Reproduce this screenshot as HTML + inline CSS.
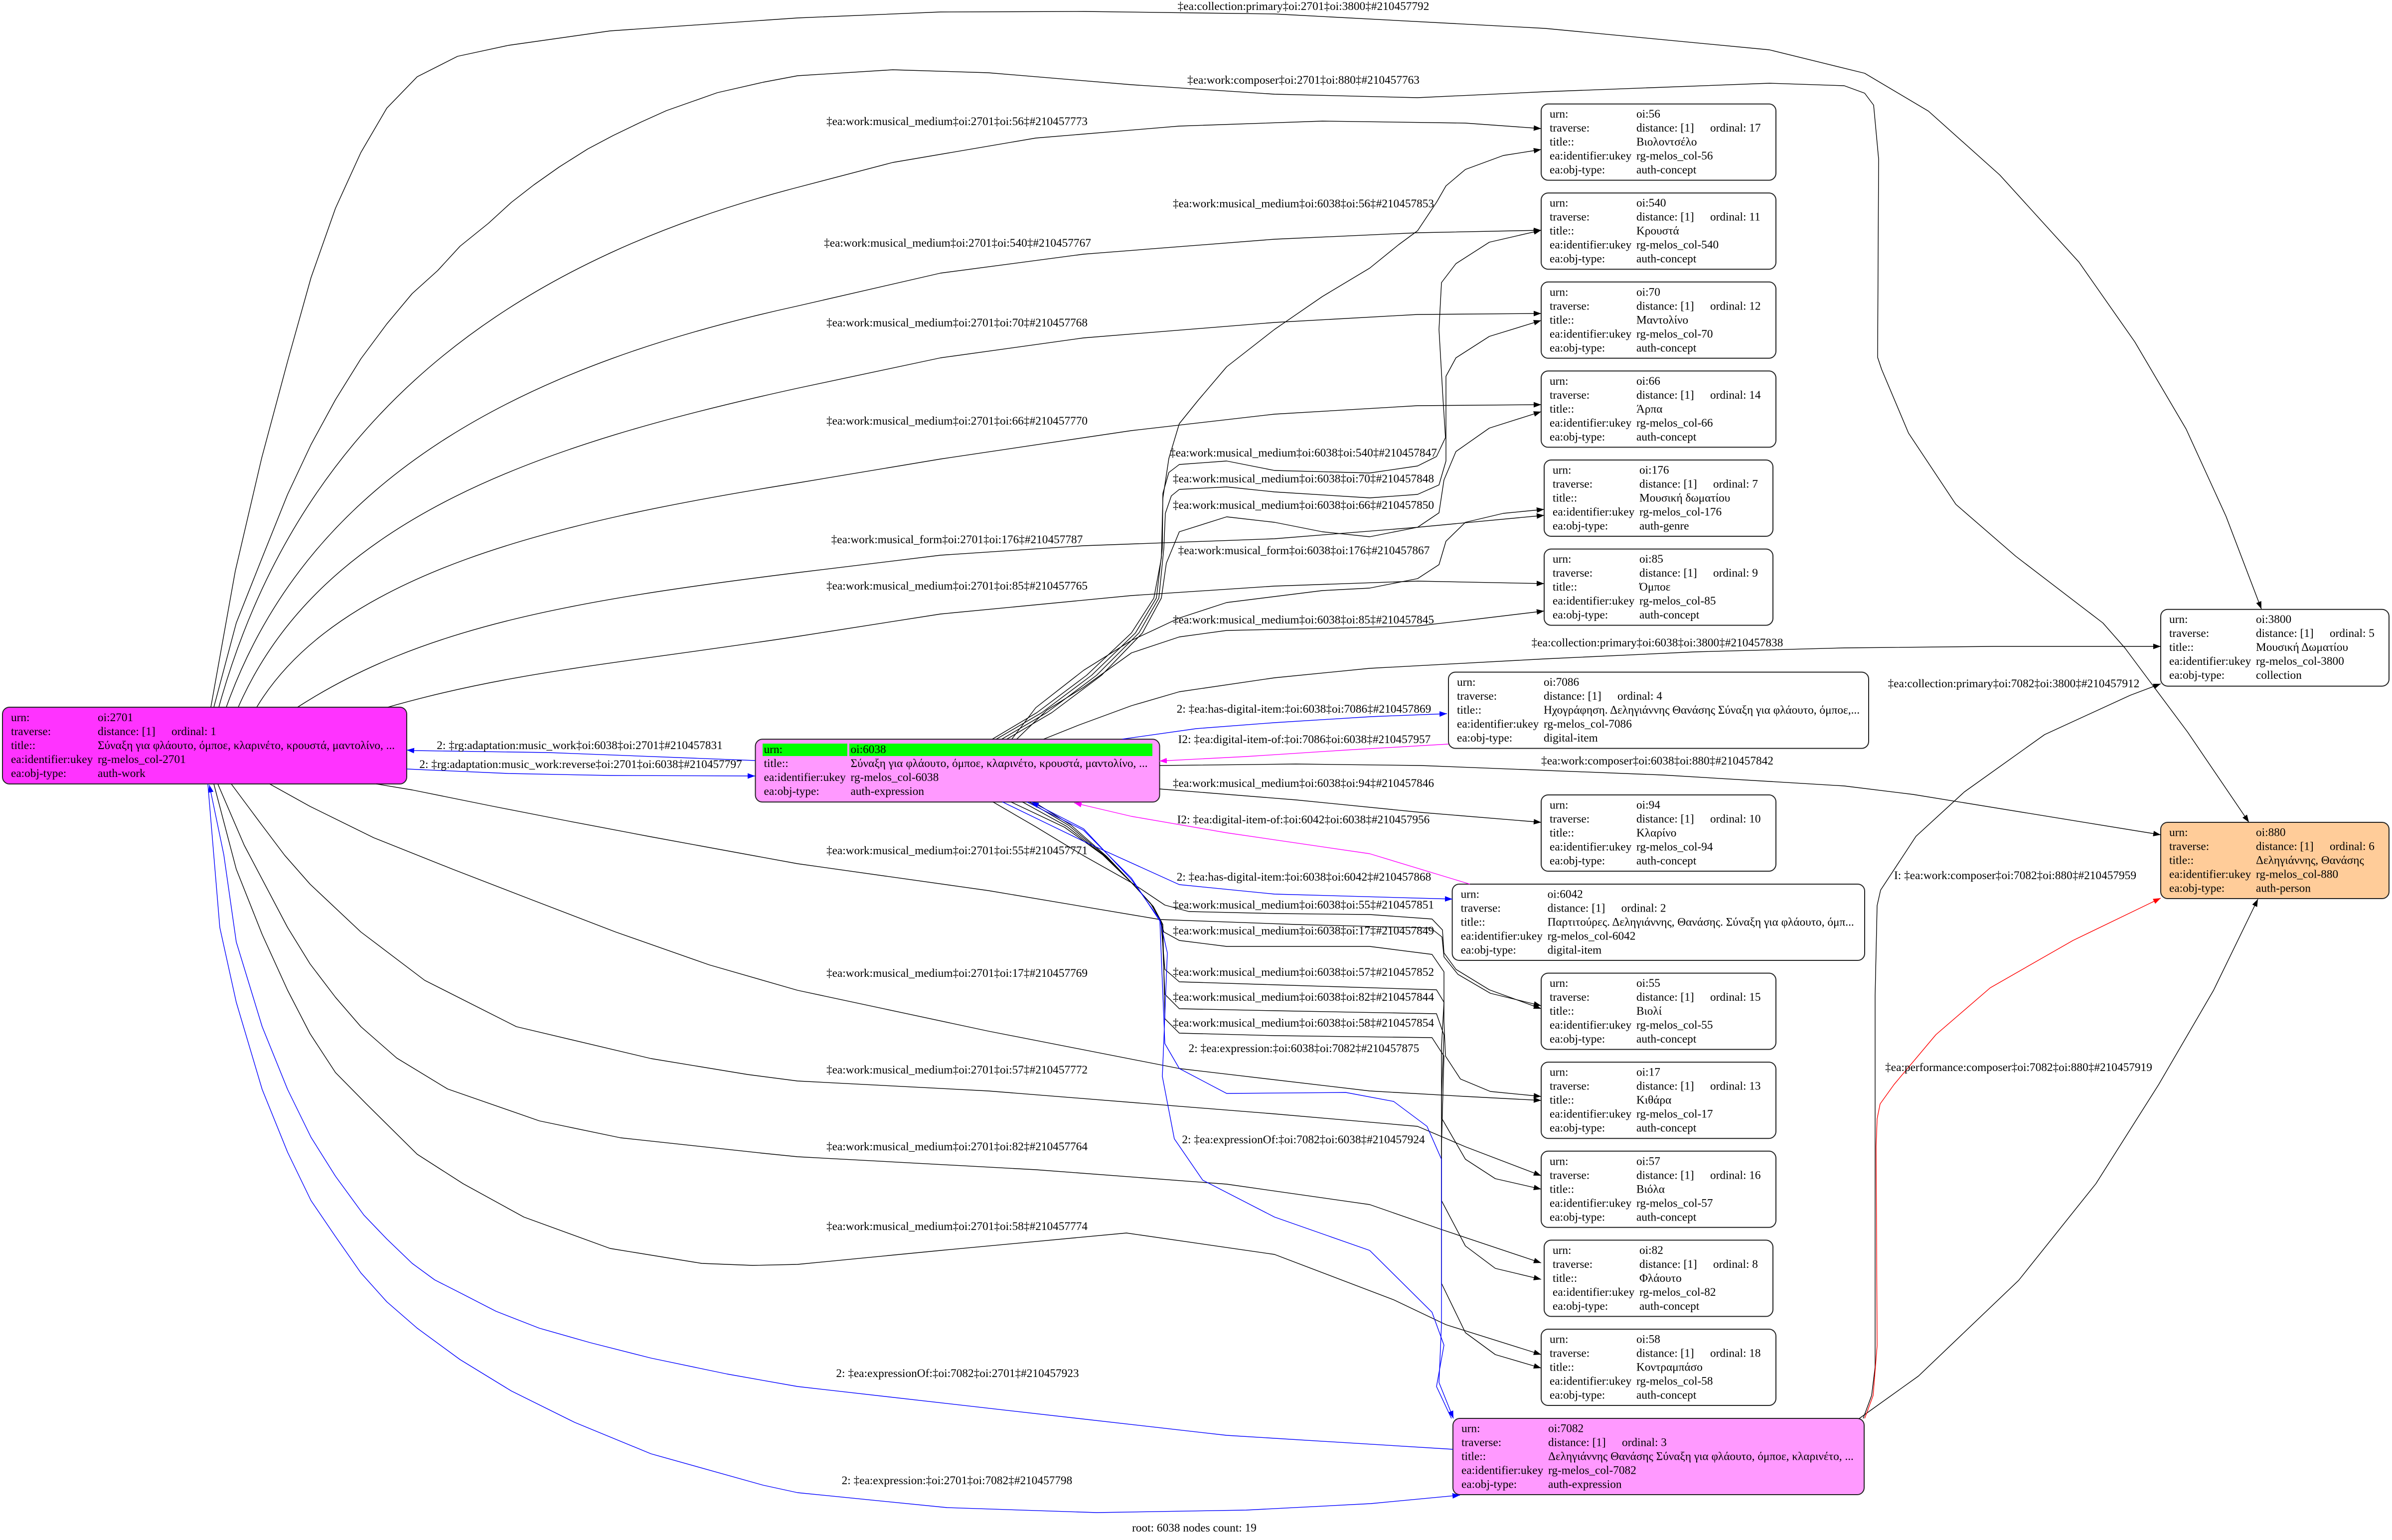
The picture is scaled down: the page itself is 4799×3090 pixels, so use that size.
<!DOCTYPE html>
<html><head><meta charset="utf-8"><style>
html,body{margin:0;padding:0;background:#fff;}
svg{display:block;}
.n{stroke:#222;stroke-width:2;}
.e{fill:none;stroke-width:1.4;stroke-linejoin:round;}
.k{stroke:#000;marker-end:url(#ak);}
.b{stroke:#0000ff;marker-end:url(#ab);}
.m{stroke:#ff00ff;marker-end:url(#am);}
.r{stroke:#ff0000;marker-end:url(#ar);}
.lb{text-anchor:middle;}
</style></head><body>
<svg xmlns="http://www.w3.org/2000/svg" width="4799" height="3090" viewBox="0 0 4799 3090" font-family="'Liberation Serif','DejaVu Serif',serif" font-size="23.3" fill="#000">
<defs>
<marker id="ak" markerUnits="userSpaceOnUse" markerWidth="16" markerHeight="12" refX="15" refY="5.5" orient="auto"><path d="M0,0 L15,5.5 L0,11 z" fill="#000"/></marker>
<marker id="ab" markerUnits="userSpaceOnUse" markerWidth="16" markerHeight="12" refX="15" refY="5.5" orient="auto"><path d="M0,0 L15,5.5 L0,11 z" fill="#0000ff"/></marker>
<marker id="am" markerUnits="userSpaceOnUse" markerWidth="16" markerHeight="12" refX="15" refY="5.5" orient="auto"><path d="M0,0 L15,5.5 L0,11 z" fill="#ff00ff"/></marker>
<marker id="ar" markerUnits="userSpaceOnUse" markerWidth="16" markerHeight="12" refX="15" refY="5.5" orient="auto"><path d="M0,0 L15,5.5 L0,11 z" fill="#ff0000"/></marker>
</defs>
<rect width="4799" height="3090" fill="#fff"/>

<!-- NODES -->
<g transform="translate(5,1419)">
<rect width="811" height="154" rx="14" class="n" fill="#ff33ff"/>
<text x="17" y="28">urn:</text><text x="191" y="28">oi:2701</text>
<text x="17" y="56">traverse:</text><text x="191" y="56">distance: [1]</text><text x="339" y="56">ordinal: 1</text>
<text x="17" y="84">title::</text><text x="191" y="84">Σύναξη για φλάουτο, όμποε, κλαρινέτο, κρουστά, μαντολίνο, ...</text>
<text x="17" y="112">ea:identifier:ukey</text><text x="191" y="112">rg-melos_col-2701</text>
<text x="17" y="140">ea:obj-type:</text><text x="191" y="140">auth-work</text>
</g>

<g transform="translate(1515.5,1483.3)">
<rect width="811" height="126" rx="14" class="n" fill="#ff99ff"/>
<rect x="14.5" y="8.7" width="170" height="25" fill="#00ff00"/>
<rect x="188.5" y="8.7" width="608" height="25" fill="#00ff00"/>
<text x="17" y="27.5">urn:</text><text x="191" y="27.5">oi:6038</text>
<text x="17" y="55.5">title::</text><text x="191" y="55.5">Σύναξη για φλάουτο, όμποε, κλαρινέτο, κρουστά, μαντολίνο, ...</text>
<text x="17" y="83.5">ea:identifier:ukey</text><text x="191" y="83.5">rg-melos_col-6038</text>
<text x="17" y="111.5">ea:obj-type:</text><text x="191" y="111.5">auth-expression</text>
</g>

<g transform="translate(3092,208.6)">
<rect width="471" height="153" rx="14" class="n" fill="#fff"/>
<text x="17" y="27.5">urn:</text><text x="191" y="27.5">oi:56</text>
<text x="17" y="55.5">traverse:</text><text x="191" y="55.5">distance: [1]</text><text x="339" y="55.5">ordinal: 17</text>
<text x="17" y="83.5">title::</text><text x="191" y="83.5">Βιολοντσέλο</text>
<text x="17" y="111.5">ea:identifier:ukey</text><text x="191" y="111.5">rg-melos_col-56</text>
<text x="17" y="139.5">ea:obj-type:</text><text x="191" y="139.5">auth-concept</text>
</g>

<g transform="translate(3092,387.2)">
<rect width="471" height="153" rx="14" class="n" fill="#fff"/>
<text x="17" y="27.5">urn:</text><text x="191" y="27.5">oi:540</text>
<text x="17" y="55.5">traverse:</text><text x="191" y="55.5">distance: [1]</text><text x="339" y="55.5">ordinal: 11</text>
<text x="17" y="83.5">title::</text><text x="191" y="83.5">Κρουστά</text>
<text x="17" y="111.5">ea:identifier:ukey</text><text x="191" y="111.5">rg-melos_col-540</text>
<text x="17" y="139.5">ea:obj-type:</text><text x="191" y="139.5">auth-concept</text>
</g>

<g transform="translate(3092,565.8)">
<rect width="471" height="153" rx="14" class="n" fill="#fff"/>
<text x="17" y="27.5">urn:</text><text x="191" y="27.5">oi:70</text>
<text x="17" y="55.5">traverse:</text><text x="191" y="55.5">distance: [1]</text><text x="339" y="55.5">ordinal: 12</text>
<text x="17" y="83.5">title::</text><text x="191" y="83.5">Μαντολίνο</text>
<text x="17" y="111.5">ea:identifier:ukey</text><text x="191" y="111.5">rg-melos_col-70</text>
<text x="17" y="139.5">ea:obj-type:</text><text x="191" y="139.5">auth-concept</text>
</g>

<g transform="translate(3092,744.4)">
<rect width="471" height="153" rx="14" class="n" fill="#fff"/>
<text x="17" y="27.5">urn:</text><text x="191" y="27.5">oi:66</text>
<text x="17" y="55.5">traverse:</text><text x="191" y="55.5">distance: [1]</text><text x="339" y="55.5">ordinal: 14</text>
<text x="17" y="83.5">title::</text><text x="191" y="83.5">Άρπα</text>
<text x="17" y="111.5">ea:identifier:ukey</text><text x="191" y="111.5">rg-melos_col-66</text>
<text x="17" y="139.5">ea:obj-type:</text><text x="191" y="139.5">auth-concept</text>
</g>

<g transform="translate(3098,923)">
<rect width="459" height="153" rx="14" class="n" fill="#fff"/>
<text x="17" y="27.5">urn:</text><text x="191" y="27.5">oi:176</text>
<text x="17" y="55.5">traverse:</text><text x="191" y="55.5">distance: [1]</text><text x="339" y="55.5">ordinal: 7</text>
<text x="17" y="83.5">title::</text><text x="191" y="83.5">Μουσική δωματίου</text>
<text x="17" y="111.5">ea:identifier:ukey</text><text x="191" y="111.5">rg-melos_col-176</text>
<text x="17" y="139.5">ea:obj-type:</text><text x="191" y="139.5">auth-genre</text>
</g>

<g transform="translate(3098,1101.6)">
<rect width="459" height="153" rx="14" class="n" fill="#fff"/>
<text x="17" y="27.5">urn:</text><text x="191" y="27.5">oi:85</text>
<text x="17" y="55.5">traverse:</text><text x="191" y="55.5">distance: [1]</text><text x="339" y="55.5">ordinal: 9</text>
<text x="17" y="83.5">title::</text><text x="191" y="83.5">Όμποε</text>
<text x="17" y="111.5">ea:identifier:ukey</text><text x="191" y="111.5">rg-melos_col-85</text>
<text x="17" y="139.5">ea:obj-type:</text><text x="191" y="139.5">auth-concept</text>
</g>

<g transform="translate(2906,1348.6)">
<rect width="843" height="153" rx="14" class="n" fill="#fff"/>
<text x="17" y="27.5">urn:</text><text x="191" y="27.5">oi:7086</text>
<text x="17" y="55.5">traverse:</text><text x="191" y="55.5">distance: [1]</text><text x="339" y="55.5">ordinal: 4</text>
<text x="17" y="83.5">title::</text><text x="191" y="83.5">Ηχογράφηση. Δεληγιάννης Θανάσης Σύναξη για φλάουτο, όμποε,...</text>
<text x="17" y="111.5">ea:identifier:ukey</text><text x="191" y="111.5">rg-melos_col-7086</text>
<text x="17" y="139.5">ea:obj-type:</text><text x="191" y="139.5">digital-item</text>
</g>

<g transform="translate(3092,1595)">
<rect width="471" height="153" rx="14" class="n" fill="#fff"/>
<text x="17" y="27.5">urn:</text><text x="191" y="27.5">oi:94</text>
<text x="17" y="55.5">traverse:</text><text x="191" y="55.5">distance: [1]</text><text x="339" y="55.5">ordinal: 10</text>
<text x="17" y="83.5">title::</text><text x="191" y="83.5">Κλαρίνο</text>
<text x="17" y="111.5">ea:identifier:ukey</text><text x="191" y="111.5">rg-melos_col-94</text>
<text x="17" y="139.5">ea:obj-type:</text><text x="191" y="139.5">auth-concept</text>
</g>

<g transform="translate(2913.6,1774)">
<rect width="827.4" height="153" rx="14" class="n" fill="#fff"/>
<text x="17" y="27.5">urn:</text><text x="191" y="27.5">oi:6042</text>
<text x="17" y="55.5">traverse:</text><text x="191" y="55.5">distance: [1]</text><text x="339" y="55.5">ordinal: 2</text>
<text x="17" y="83.5">title::</text><text x="191" y="83.5">Παρτιτούρες. Δεληγιάννης, Θανάσης. Σύναξη για φλάουτο, όμπ...</text>
<text x="17" y="111.5">ea:identifier:ukey</text><text x="191" y="111.5">rg-melos_col-6042</text>
<text x="17" y="139.5">ea:obj-type:</text><text x="191" y="139.5">digital-item</text>
</g>

<g transform="translate(3092,1952.6)">
<rect width="471" height="153" rx="14" class="n" fill="#fff"/>
<text x="17" y="27.5">urn:</text><text x="191" y="27.5">oi:55</text>
<text x="17" y="55.5">traverse:</text><text x="191" y="55.5">distance: [1]</text><text x="339" y="55.5">ordinal: 15</text>
<text x="17" y="83.5">title::</text><text x="191" y="83.5">Βιολί</text>
<text x="17" y="111.5">ea:identifier:ukey</text><text x="191" y="111.5">rg-melos_col-55</text>
<text x="17" y="139.5">ea:obj-type:</text><text x="191" y="139.5">auth-concept</text>
</g>

<g transform="translate(3092,2131.2)">
<rect width="471" height="153" rx="14" class="n" fill="#fff"/>
<text x="17" y="27.5">urn:</text><text x="191" y="27.5">oi:17</text>
<text x="17" y="55.5">traverse:</text><text x="191" y="55.5">distance: [1]</text><text x="339" y="55.5">ordinal: 13</text>
<text x="17" y="83.5">title::</text><text x="191" y="83.5">Κιθάρα</text>
<text x="17" y="111.5">ea:identifier:ukey</text><text x="191" y="111.5">rg-melos_col-17</text>
<text x="17" y="139.5">ea:obj-type:</text><text x="191" y="139.5">auth-concept</text>
</g>

<g transform="translate(3092,2309.8)">
<rect width="471" height="153" rx="14" class="n" fill="#fff"/>
<text x="17" y="27.5">urn:</text><text x="191" y="27.5">oi:57</text>
<text x="17" y="55.5">traverse:</text><text x="191" y="55.5">distance: [1]</text><text x="339" y="55.5">ordinal: 16</text>
<text x="17" y="83.5">title::</text><text x="191" y="83.5">Βιόλα</text>
<text x="17" y="111.5">ea:identifier:ukey</text><text x="191" y="111.5">rg-melos_col-57</text>
<text x="17" y="139.5">ea:obj-type:</text><text x="191" y="139.5">auth-concept</text>
</g>

<g transform="translate(3098,2488.4)">
<rect width="459" height="153" rx="14" class="n" fill="#fff"/>
<text x="17" y="27.5">urn:</text><text x="191" y="27.5">oi:82</text>
<text x="17" y="55.5">traverse:</text><text x="191" y="55.5">distance: [1]</text><text x="339" y="55.5">ordinal: 8</text>
<text x="17" y="83.5">title::</text><text x="191" y="83.5">Φλάουτο</text>
<text x="17" y="111.5">ea:identifier:ukey</text><text x="191" y="111.5">rg-melos_col-82</text>
<text x="17" y="139.5">ea:obj-type:</text><text x="191" y="139.5">auth-concept</text>
</g>

<g transform="translate(3092,2667)">
<rect width="471" height="153" rx="14" class="n" fill="#fff"/>
<text x="17" y="27.5">urn:</text><text x="191" y="27.5">oi:58</text>
<text x="17" y="55.5">traverse:</text><text x="191" y="55.5">distance: [1]</text><text x="339" y="55.5">ordinal: 18</text>
<text x="17" y="83.5">title::</text><text x="191" y="83.5">Κοντραμπάσο</text>
<text x="17" y="111.5">ea:identifier:ukey</text><text x="191" y="111.5">rg-melos_col-58</text>
<text x="17" y="139.5">ea:obj-type:</text><text x="191" y="139.5">auth-concept</text>
</g>

<g transform="translate(2915,2846)">
<rect width="825" height="153" rx="14" class="n" fill="#ff99ff"/>
<text x="17" y="27.5">urn:</text><text x="191" y="27.5">oi:7082</text>
<text x="17" y="55.5">traverse:</text><text x="191" y="55.5">distance: [1]</text><text x="339" y="55.5">ordinal: 3</text>
<text x="17" y="83.5">title::</text><text x="191" y="83.5">Δεληγιάννης Θανάσης Σύναξη για φλάουτο, όμποε, κλαρινέτο, ...</text>
<text x="17" y="111.5">ea:identifier:ukey</text><text x="191" y="111.5">rg-melos_col-7082</text>
<text x="17" y="139.5">ea:obj-type:</text><text x="191" y="139.5">auth-expression</text>
</g>

<g transform="translate(4335,1222.7)">
<rect width="458" height="154" rx="14" class="n" fill="#fff"/>
<text x="17" y="27.5">urn:</text><text x="191" y="27.5">oi:3800</text>
<text x="17" y="55.5">traverse:</text><text x="191" y="55.5">distance: [1]</text><text x="339" y="55.5">ordinal: 5</text>
<text x="17" y="83.5">title::</text><text x="191" y="83.5">Μουσική Δωματίου</text>
<text x="17" y="111.5">ea:identifier:ukey</text><text x="191" y="111.5">rg-melos_col-3800</text>
<text x="17" y="139.5">ea:obj-type:</text><text x="191" y="139.5">collection</text>
</g>

<g transform="translate(4335,1650)">
<rect width="458" height="153" rx="14" class="n" fill="#ffcc99"/>
<text x="17" y="27.5">urn:</text><text x="191" y="27.5">oi:880</text>
<text x="17" y="55.5">traverse:</text><text x="191" y="55.5">distance: [1]</text><text x="339" y="55.5">ordinal: 6</text>
<text x="17" y="83.5">title::</text><text x="191" y="83.5">Δεληγιάννης, Θανάσης</text>
<text x="17" y="111.5">ea:identifier:ukey</text><text x="191" y="111.5">rg-melos_col-880</text>
<text x="17" y="139.5">ea:obj-type:</text><text x="191" y="139.5">auth-person</text>
</g>

<!-- EDGES: 2701 top -->
<path class="e k" d="M423,1419 L472,1146 L525,919 L577,725 L624,557 L673,418 L724,306 L776,217 L837,154 L918,113 L1020,91 L1224,62 L1600,36 L1887,24 L2174,23 L2557,28 L3100,57 L3550,100 L3741,147 L3869,223 L4012,351 L4171,526 L4283,686 L4386,861 L4466,1036 L4537,1222"/>
<path class="e k" d="M429,1419 L474,1250 L526,1119 L577,992 L624,892 L673,802 L724,720 L776,650 L827,589 L878,543 L923,494 L980,448 L1026,406 L1071,371 L1122,335 L1179,299 L1230,272 L1286,245 L1337,222 L1388,204 L1439,186 L1531,165 L1600,152 L1791,140 L1983,146 L2270,170 L2557,189 L2844,196 L3100,184 L3550,167 L3700,172 L3741,187 L3759,211 L3769,319 L3767,717 L3775,741 L3829,869 L3924,1012 L4044,1116 L4219,1250 L4263,1300 L4389,1469 L4512,1650"/>
<path class="e k" d="M439,1419 C613,793 1078,512 1600,376 L1791,326 L2078,277 L2366,253 L2653,243 L2940,247 L3092,258"/>
<path class="e k" d="M454,1419 C626,936 1084,727 1600,614 L1887,548 L2174,510 L2557,480 L2844,467 L3092,462"/>
<path class="e k" d="M478,1419 C646,1035 1095,890 1600,779 L1887,718 L2174,678 L2557,647 L2844,631 L3092,629"/>
<path class="e k" d="M515,1419 C678,1149 1112,1047 1600,969 L1887,921 L2270,864 L2557,831 L2844,814 L3092,812"/>
<path class="e k" d="M597,1419 C848,1257 1149,1205 1600,1149 L1887,1114 L2174,1095 L2557,1081 L2844,1058 L3098,1034"/>
<path class="e k" d="M778,1419 C1025,1348 1230,1333 1600,1277 L1887,1232 L2270,1195 L2557,1176 L2844,1166 L3098,1171"/>

<!-- 6038 top -->
<path class="e k" d="M1991,1483 L2080,1430 L2180,1355 L2270,1270 L2315,1200 L2330,1120 L2333,1000 L2345,920 L2366,850 L2404,803 L2461,736 L2557,661 L2653,595 L2748,538 L2806,491 L2844,463 L2882,406 L2901,373 L2940,340 L3016,312 L3092,300"/>
<path class="e k" d="M1999,1483 L2090,1430 L2190,1355 L2278,1270 L2320,1200 L2332,1100 L2333,990 L2345,948 L2366,932 L2461,925 L2557,944 L2748,949 L2844,935 L2882,916 L2900,878 L2895,800 L2887,661 L2892,567 L2921,529 L2988,486 L3092,462"/>
<path class="e k" d="M2010,1483 L2100,1430 L2200,1355 L2285,1270 L2325,1200 L2335,1100 L2338,1030 L2350,995 L2366,982 L2461,977 L2557,987 L2748,999 L2844,992 L2887,973 L2901,925 L2901,755 L2921,718 L2988,675 L3092,643"/>
<path class="e k" d="M2020,1483 L2110,1430 L2210,1355 L2292,1270 L2330,1200 L2340,1130 L2366,1067 L2461,1037 L2557,1048 L2653,1067 L2748,1077 L2844,1058 L2887,1029 L2897,963 L2921,906 L2988,859 L3092,826"/>
<path class="e k" d="M2030,1483 L2078,1420 L2174,1345 L2270,1285 L2366,1240 L2461,1209 L2653,1185 L2748,1180 L2844,1161 L2887,1133 L2901,1086 L2940,1048 L3016,1030 L3098,1022"/>
<path class="e k" d="M2040,1483 L2100,1425 L2174,1379 L2270,1310 L2366,1278 L2461,1265 L2653,1261 L2844,1256 L2940,1245 L3098,1226"/>
<path class="e k" d="M2094,1483 L2164,1455 L2270,1416 L2366,1388 L2557,1360 L2748,1341 L3100,1322 L3400,1308 L3700,1300 L4000,1297 L4335,1297"/>
<path class="e k" d="M2326,1536 L2600,1533 L2850,1536 L3335,1555 L3700,1577 L3838,1594 L4335,1675"/>
<path class="e k" d="M2326,1583 L2600,1605 L2850,1630 L3092,1650"/>

<!-- 6038 bottom -->
<path class="e k" d="M1992,1609 L2078,1659 L2174,1717 L2270,1771 L2337,1816 L2385,1829 L2557,1833 L2748,1835 L2873,1844 L2894,1866 L2897,1912 L2921,1945 L2988,1986 L3092,2024"/>
<path class="e k" d="M2028,1609 L2136,1660 L2212,1715 L2270,1771 L2308,1812 L2327,1845 L2335,1870 L2366,1887 L2461,1899 L2748,1899 L2873,1915 L2897,1950 L2897,2050 L2900,2119 L2930,2165 L2990,2190 L3092,2200"/>
<path class="e k" d="M2051,1609 L2140,1658 L2214,1716 L2272,1773 L2310,1815 L2329,1848 L2337,1945 L2366,1970 L2557,1976 L2882,1986 L2897,2011 L2892,2100 L2892,2243 L2940,2326 L3000,2365 L3092,2386"/>
<path class="e k" d="M2065,1609 L2144,1656 L2217,1717 L2274,1775 L2312,1817 L2331,1851 L2337,1995 L2366,2024 L2557,2028 L2882,2034 L2897,2077 L2892,2200 L2892,2409 L2940,2500 L3000,2545 L3092,2567"/>
<path class="e k" d="M2074,1609 L2148,1655 L2220,1718 L2276,1777 L2314,1819 L2333,1855 L2337,2044 L2366,2073 L2557,2078 L2873,2082 L2897,2119 L2892,2300 L2892,2575 L2940,2674 L3000,2718 L3092,2745"/>

<!-- 2701 bottom -->
<path class="e k" d="M755,1573 L827,1585 L985,1617 L1143,1648 L1306,1679 L1480,1711 L1600,1733 L1983,1787 L2327,1845 L2600,1855 L2870,1862 L2893,1880 L2897,1920 L2925,1955 L2990,1993 L3092,2018"/>
<path class="e k" d="M541,1573 L622,1618 L750,1681 L908,1744 L1071,1807 L1235,1870 L1423,1936 L1600,1987 L1983,2069 L2366,2144 L2748,2189 L2940,2200 L3092,2208"/>
<path class="e k" d="M464,1573 L525,1655 L571,1716 L622,1774 L724,1870 L852,1967 L1036,2060 L1306,2124 L1500,2156 L1600,2169 L1983,2189 L2557,2235 L2844,2260 L2940,2301 L3092,2359"/>
<path class="e k" d="M437,1573 L490,1696 L577,1861 L622,1934 L673,2001 L724,2060 L796,2123 L898,2185 L1082,2249 L1245,2283 L1531,2314 L1600,2321 L2078,2347 L2461,2376 L2748,2417 L2892,2467 L3092,2534"/>
<path class="e k" d="M429,1573 L474,1744 L526,1875 L577,1987 L622,2074 L673,2152 L735,2215 L837,2316 L929,2375 L1051,2442 L1224,2505 L1408,2535 L1510,2539 L1600,2537 L1887,2509 L2260,2474 L2557,2517 L2796,2608 L2901,2658 L3092,2718"/>

<!-- 7082 right -->
<path class="e k" d="M3738,2846 L3755,2800 L3762,2743 L3762,1997 L3766,1817 L3773,1786 L3844,1678 L3941,1589 L4102,1474 L4274,1395 L4335,1372"/>
<path class="e k" d="M3729,2847 L3849,2761 L4050,2569 L4205,2375 L4331,2176 L4441,1987 L4530,1804"/>
<path class="e r" d="M3741,2846 L3758,2800 L3766,2700 L3764,2300 L3766,2245 L3772,2215 L3800,2176 L3884,2076 L3993,1982 L4159,1887 L4335,1802"/>

<!-- blue -->
<path class="e b" d="M1515,1526 L1100,1510 L830,1506 L816,1505"/>
<path class="e b" d="M816,1543 L1020,1552 L1224,1556 L1515,1557"/>
<path class="e b" d="M2252,1483 L2400,1462 L2557,1450 L2750,1438 L2903,1432"/>
<path class="e b" d="M2011,1609 L2174,1688 L2366,1775 L2557,1794 L2914,1804"/>
<path class="e b" d="M2060,1609 L2174,1666 L2270,1762 L2327,1848 L2337,2094 L2366,2144 L2461,2194 L2700,2192 L2796,2210 L2863,2260 L2892,2326 L2892,2658 L2887,2774 L2916,2846"/>
<path class="e b" d="M2912,2846 L2882,2782 L2897,2699 L2873,2633 L2748,2509 L2557,2442 L2413,2368 L2356,2285 L2332,2160 L2342,1912 L2327,1845 L2270,1765 L2174,1663 L2069,1609"/>
<path class="e b" d="M417,1573 L441,1861 L474,2011 L526,2186 L577,2312 L624,2409 L673,2481 L724,2554 L776,2612 L837,2665 L923,2728 L1026,2791 L1153,2854 L1306,2917 L1531,2980 L1600,2995 L1900,3025 L2200,3035 L2500,3030 L2750,3017 L2929,3000"/>
<path class="e b" d="M2915,2908 L2461,2880 L1600,2782 L1459,2757 L1306,2725 L1184,2694 L1082,2665 L995,2631 L929,2597 L872,2568 L827,2535 L776,2486 L730,2438 L673,2360 L624,2282 L577,2186 L526,2060 L474,1890 L449,1715 L420,1575"/>

<!-- magenta -->
<path class="e m" d="M2906,1493 L2700,1505 L2500,1518 L2326,1527"/>
<path class="e m" d="M2949,1774 L2748,1713 L2461,1671 L2270,1638 L2155,1611"/>

<!-- EDGE LABELS -->
<g class="lb" text-anchor="middle">
<text x="2615" y="20">‡ea:collection:primary‡oi:2701‡oi:3800‡#210457792</text>
<text x="2615" y="168">‡ea:work:composer‡oi:2701‡oi:880‡#210457763</text>
<text x="1920" y="251">‡ea:work:musical_medium‡oi:2701‡oi:56‡#210457773</text>
<text x="2615" y="416">‡ea:work:musical_medium‡oi:6038‡oi:56‡#210457853</text>
<text x="1921" y="495">‡ea:work:musical_medium‡oi:2701‡oi:540‡#210457767</text>
<text x="1920" y="655">‡ea:work:musical_medium‡oi:2701‡oi:70‡#210457768</text>
<text x="1920" y="852">‡ea:work:musical_medium‡oi:2701‡oi:66‡#210457770</text>
<text x="2615" y="916">‡ea:work:musical_medium‡oi:6038‡oi:540‡#210457847</text>
<text x="2615" y="968">‡ea:work:musical_medium‡oi:6038‡oi:70‡#210457848</text>
<text x="2615" y="1021">‡ea:work:musical_medium‡oi:6038‡oi:66‡#210457850</text>
<text x="1920" y="1090">‡ea:work:musical_form‡oi:2701‡oi:176‡#210457787</text>
<text x="2616" y="1112">‡ea:work:musical_form‡oi:6038‡oi:176‡#210457867</text>
<text x="1920" y="1183">‡ea:work:musical_medium‡oi:2701‡oi:85‡#210457765</text>
<text x="2615" y="1251">‡ea:work:musical_medium‡oi:6038‡oi:85‡#210457845</text>
<text x="3325" y="1297">‡ea:collection:primary‡oi:6038‡oi:3800‡#210457838</text>
<text x="4040" y="1379">‡ea:collection:primary‡oi:7082‡oi:3800‡#210457912</text>
<text x="2616" y="1430">2: ‡ea:has-digital-item:‡oi:6038‡oi:7086‡#210457869</text>
<text x="2617" y="1491">I2: ‡ea:digital-item-of:‡oi:7086‡oi:6038‡#210457957</text>
<text x="1163" y="1503">2: ‡rg:adaptation:music_work‡oi:6038‡oi:2701‡#210457831</text>
<text x="1165" y="1541">2: ‡rg:adaptation:music_work:reverse‡oi:2701‡oi:6038‡#210457797</text>
<text x="3325" y="1534">‡ea:work:composer‡oi:6038‡oi:880‡#210457842</text>
<text x="2615" y="1579">‡ea:work:musical_medium‡oi:6038‡oi:94‡#210457846</text>
<text x="2615" y="1652">I2: ‡ea:digital-item-of:‡oi:6042‡oi:6038‡#210457956</text>
<text x="1920" y="1714">‡ea:work:musical_medium‡oi:2701‡oi:55‡#210457771</text>
<text x="2616" y="1767">2: ‡ea:has-digital-item:‡oi:6038‡oi:6042‡#210457868</text>
<text x="4043" y="1764">I: ‡ea:work:composer‡oi:7082‡oi:880‡#210457959</text>
<text x="2615" y="1823">‡ea:work:musical_medium‡oi:6038‡oi:55‡#210457851</text>
<text x="2615" y="1875">‡ea:work:musical_medium‡oi:6038‡oi:17‡#210457849</text>
<text x="1920" y="1960">‡ea:work:musical_medium‡oi:2701‡oi:17‡#210457769</text>
<text x="2615" y="1958">‡ea:work:musical_medium‡oi:6038‡oi:57‡#210457852</text>
<text x="2615" y="2008">‡ea:work:musical_medium‡oi:6038‡oi:82‡#210457844</text>
<text x="2615" y="2060">‡ea:work:musical_medium‡oi:6038‡oi:58‡#210457854</text>
<text x="2616" y="2111">2: ‡ea:expression:‡oi:6038‡oi:7082‡#210457875</text>
<text x="1920" y="2154">‡ea:work:musical_medium‡oi:2701‡oi:57‡#210457772</text>
<text x="4050" y="2149">‡ea:performance:composer‡oi:7082‡oi:880‡#210457919</text>
<text x="2615" y="2294">2: ‡ea:expressionOf:‡oi:7082‡oi:6038‡#210457924</text>
<text x="1920" y="2308">‡ea:work:musical_medium‡oi:2701‡oi:82‡#210457764</text>
<text x="1920" y="2468">‡ea:work:musical_medium‡oi:2701‡oi:58‡#210457774</text>
<text x="1921" y="2763">2: ‡ea:expressionOf:‡oi:7082‡oi:2701‡#210457923</text>
<text x="1920" y="2978">2: ‡ea:expression:‡oi:2701‡oi:7082‡#210457798</text>
<text x="2396" y="3073">root: 6038 nodes count: 19</text>
</g>
</svg>
</body></html>
